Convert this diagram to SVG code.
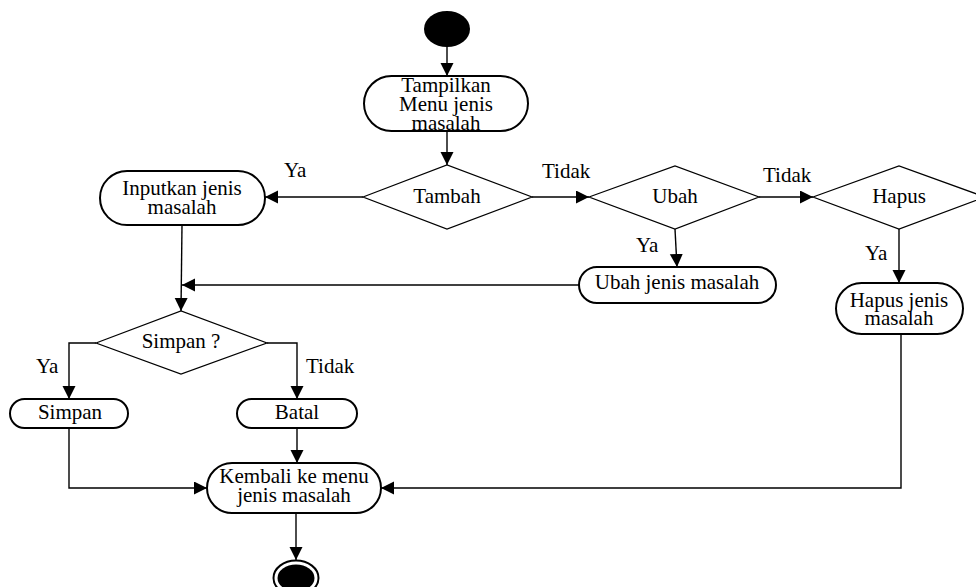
<svg xmlns="http://www.w3.org/2000/svg" width="976" height="587" viewBox="0 0 976 587">
  <style>
    .act { fill: #ffffff; stroke: #000000; stroke-width: 2; }
    .dec { fill: #ffffff; stroke: #000000; stroke-width: 1.2; }
    .flow { fill: none; stroke: #000000; stroke-width: 1.4; marker-end: url(#arrow); }
    .plain { fill: none; stroke: #000000; stroke-width: 1.4; }
    text { font-family: "Liberation Serif", "Times New Roman", serif; font-size: 21px; fill: #000000; }
    .c { text-anchor: middle; }
  </style>
  <defs>
    <marker id="arrow" markerUnits="userSpaceOnUse" markerWidth="14" markerHeight="14" refX="13" refY="6.5" orient="auto">
      <path d="M0,0 L13,6.5 L0,13 z" fill="#000000"/>
    </marker>
  </defs>

  <rect width="976" height="587" fill="#ffffff"/>

  <!-- connectors -->
  <g id="connectors">
    <path class="flow" d="M447,47 V76"/>
    <path class="flow" d="M447,131 V165"/>
    <path class="flow" d="M363,197 H265"/>
    <path class="flow" d="M532,197 H589"/>
    <path class="flow" d="M759,197 H813"/>
    <path class="flow" d="M675,229 L677,267"/>
    <path class="flow" d="M899,229 V283"/>
    <path class="flow" d="M182,225 L181,311"/>
    <path class="flow" d="M579,285 H182"/>
    <path class="flow" d="M96,343 H69 V399"/>
    <path class="flow" d="M267,343 H297 V399"/>
    <path class="flow" d="M69,428 V488 H207"/>
    <path class="flow" d="M297,428 V463"/>
    <path class="flow" d="M901,334 V488 H381"/>
    <path class="flow" d="M296,513 V560"/>
    <text x="284" y="177">Ya</text>
    <text x="542" y="178">Tidak</text>
    <text x="763" y="182">Tidak</text>
    <text x="636" y="252">Ya</text>
    <text x="865" y="260">Ya</text>
    <text x="36" y="373">Ya</text>
    <text x="306" y="373">Tidak</text>
  </g>

  <!-- start -->
  <g id="start">
    <ellipse cx="447" cy="29" rx="23" ry="18" fill="#000000"/>
  </g>

  <g id="tampilkan-menu">
    <rect class="act" x="364" y="76" width="164" height="55" rx="27.5"/>
    <text class="c" x="446" y="92">Tampilkan</text>
    <text class="c" x="446" y="111">Menu jenis</text>
    <text class="c" x="446" y="130">masalah</text>
  </g>

  <g id="tambah">
    <polygon class="dec" points="363,197 447,165 532,197 447,229"/>
    <text class="c" x="447" y="203">Tambah</text>
  </g>

  <g id="ubah">
    <polygon class="dec" points="589,197 675,166 759,197 675,229"/>
    <text class="c" x="675" y="203">Ubah</text>
  </g>

  <g id="hapus">
    <polygon class="dec" points="813,197 899,166 985,197 899,229"/>
    <text class="c" x="899" y="203">Hapus</text>
  </g>

  <g id="inputkan">
    <rect class="act" x="100" y="171" width="165" height="54" rx="27"/>
    <text class="c" x="182" y="195">Inputkan jenis</text>
    <text class="c" x="182" y="214">masalah</text>
  </g>

  <g id="ubah-jenis">
    <rect class="act" x="579" y="267" width="197" height="36" rx="18"/>
    <text class="c" x="677" y="289">Ubah jenis masalah</text>
  </g>

  <g id="hapus-jenis">
    <rect class="act" x="836" y="283" width="127" height="51" rx="25.5"/>
    <text class="c" x="899" y="307">Hapus jenis</text>
    <text class="c" x="899" y="325">masalah</text>
  </g>

  <g id="simpan-decision">
    <polygon class="dec" points="96,343 181,311 267,343 181,374"/>
    <text class="c" x="181" y="348">Simpan ?</text>
  </g>

  <g id="simpan">
    <rect class="act" x="10" y="399" width="118" height="29" rx="14.5"/>
    <text class="c" x="70" y="419">Simpan</text>
  </g>

  <g id="batal">
    <rect class="act" x="237" y="399" width="120" height="29" rx="14.5"/>
    <text class="c" x="297" y="419">Batal</text>
  </g>

  <g id="kembali">
    <rect class="act" x="207" y="463" width="174" height="50" rx="25"/>
    <text class="c" x="294" y="483">Kembali ke menu</text>
    <text class="c" x="294" y="502">jenis masalah</text>
  </g>

  <!-- end -->
  <g id="end">
    <ellipse cx="296" cy="578" rx="22.5" ry="17.5" fill="#ffffff" stroke="#000000" stroke-width="2"/>
    <ellipse cx="296" cy="578" rx="18.5" ry="13.5" fill="#000000"/>
  </g>
</svg>
